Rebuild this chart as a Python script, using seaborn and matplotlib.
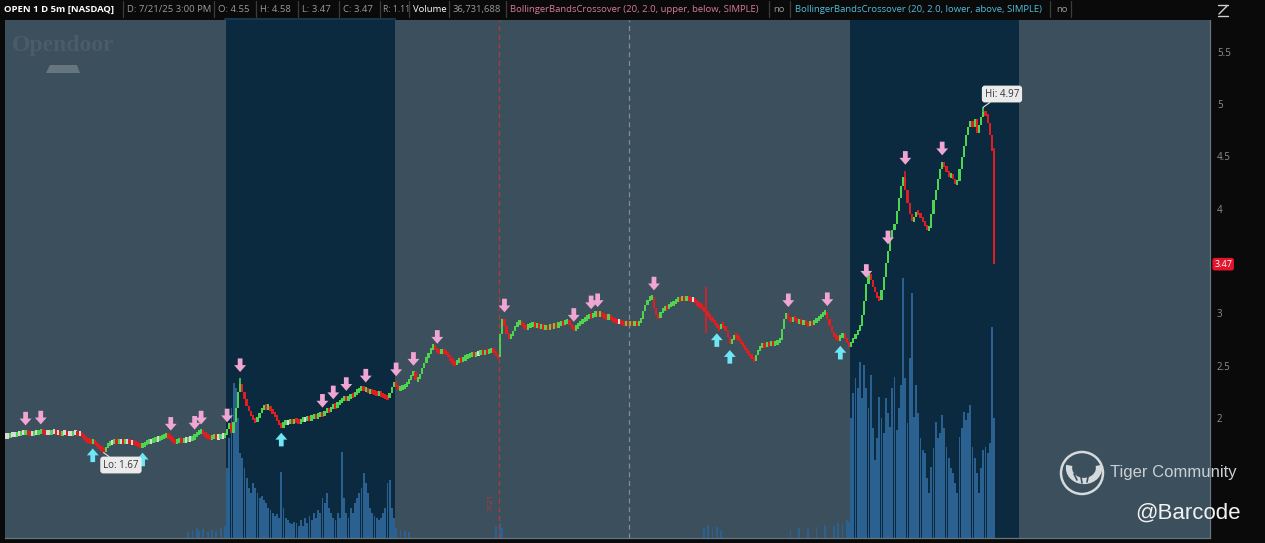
import matplotlib
matplotlib.use("Agg")
import numpy as np
import pandas as pd
import matplotlib.pyplot as plt
import seaborn as sns
from matplotlib.patches import Circle, Arc, Polygon
from matplotlib.lines import Line2D

# ---- data (5 min bars, OPEN) ----
closes = [
    # extended hours before 7/18 open (bars 0-101)
    1.83, 1.83, 1.84, 1.84, 1.84, 1.85, 1.85, 1.86, 1.86, 1.87,
    1.86, 1.85, 1.85, 1.86, 1.86, 1.87, 1.88, 1.87, 1.86, 1.86,
    1.86, 1.87, 1.87, 1.86, 1.86, 1.85, 1.86, 1.86, 1.85, 1.85,
    1.85, 1.86, 1.86, 1.85, 1.85,
    1.83, 1.81, 1.79, 1.78, 1.77, 1.78, 1.76, 1.74, 1.72, 1.70, 1.68,
    1.72, 1.75, 1.77, 1.77, 1.78, 1.77, 1.78, 1.78, 1.77, 1.78, 1.78, 1.77, 1.77,
    1.76, 1.75, 1.74, 1.73, 1.74,
    1.76, 1.77, 1.78, 1.78, 1.79, 1.80, 1.80, 1.81, 1.82, 1.83, 1.84,
    1.82, 1.80, 1.78, 1.77, 1.78,
    1.79, 1.78, 1.79, 1.79, 1.80, 1.80, 1.81,
    1.83, 1.85, 1.87, 1.88, 1.85,
    1.83, 1.82, 1.81, 1.82, 1.83, 1.82, 1.82, 1.83, 1.83, 1.84,
    # regular session 1 (bars 102-179)
    1.90, 1.95, 1.86, 1.96, 2.10, 2.25, 2.33,
    2.25, 2.18, 2.12, 2.07, 2.02,
    1.99, 1.97, 2.00,
    2.05, 2.09, 2.11, 2.10, 2.11,
    2.07, 2.05, 2.02, 1.98, 1.94, 1.92,
    1.95, 1.96, 1.96, 1.97, 1.96, 1.98, 1.97, 1.96, 1.98, 1.99,
    1.99, 2.00, 1.99, 2.01, 2.02, 2.01, 2.03, 2.04, 2.03,
    2.06, 2.08, 2.07, 2.10, 2.12, 2.11, 2.14, 2.16, 2.18, 2.20, 2.18, 2.20,
    2.22, 2.21, 2.24, 2.26, 2.27, 2.29, 2.27, 2.28,
    2.25, 2.26, 2.25, 2.24, 2.23, 2.24, 2.22, 2.21, 2.20, 2.19,
    2.24, 2.30, 2.34,
    # after hours / overnight / premarket (bars 180-389)
    2.31, 2.28, 2.29, 2.30, 2.31, 2.33,
    2.37, 2.41, 2.44, 2.36, 2.38, 2.42,
    2.48, 2.53, 2.58, 2.62, 2.66, 2.70,
    2.65, 2.64, 2.63, 2.64, 2.63, 2.62,
    2.59, 2.56, 2.53, 2.52, 2.54,
    2.56, 2.55, 2.57, 2.58,
    2.59, 2.60, 2.61, 2.60, 2.62, 2.62, 2.63, 2.62, 2.64, 2.63, 2.64, 2.65, 2.64,
    2.60, 2.58,
    2.80, 2.95,
    2.88, 2.80, 2.77, 2.79,
    2.83, 2.88, 2.91, 2.92,
    2.89, 2.87, 2.86, 2.88,
    2.89, 2.90, 2.88, 2.89, 2.87, 2.88, 2.86, 2.87, 2.86, 2.88,
    2.87, 2.89, 2.88, 2.90, 2.91, 2.90, 2.92,
    2.93, 2.89, 2.86, 2.85, 2.87,
    2.89, 2.91, 2.93, 2.95, 2.96, 2.98, 2.97, 2.99, 3.00, 2.99, 3.00,
    2.98, 2.97, 2.96, 2.97, 2.95, 2.94, 2.93, 2.92, 2.92,
    2.91, 2.90, 2.91, 2.90, 2.91, 2.90, 2.91, 2.90, 2.91,
    2.95, 3.02, 3.08, 3.13, 3.15,
    3.16, 3.05, 2.98, 2.96,
    3.01, 3.04, 3.06, 3.05, 3.08, 3.09, 3.10,
    3.12, 3.14, 3.13, 3.15, 3.14, 3.15, 3.14, 3.13, 3.13,
    3.11, 3.09, 3.07, 3.05, 3.03, 3.01,
    2.98, 2.95, 2.93, 2.90, 2.87, 2.85,
    2.90, 2.88,
    2.83, 2.77, 2.71,
    2.75, 2.79, 2.78,
    2.75, 2.72, 2.69, 2.66, 2.63, 2.60, 2.57, 2.55,
    2.60, 2.65, 2.68, 2.70,
    2.69, 2.71, 2.70, 2.72, 2.71, 2.72, 2.73, 2.75,
    2.85, 2.95, 3.00,
    2.95, 2.93, 2.96, 2.94, 2.92,
    2.93, 2.91, 2.92, 2.90, 2.89, 2.91, 2.90, 2.92, 2.94,
    2.96, 2.98, 3.00, 3.01,
    2.95, 2.88, 2.82, 2.78, 2.77,
    2.75, 2.78, 2.80, 2.76, 2.72,
    2.68,
    # regular session 7/21 (bars 390-456)
    2.72, 2.76, 2.80, 2.84, 2.88,
    2.98, 3.12, 3.28, 3.38,
    3.32, 3.25, 3.20, 3.15, 3.13,
    3.22, 3.35, 3.48, 3.60, 3.72, 3.80,
    3.85, 3.98, 4.10, 4.22, 4.30,
    4.18, 4.05, 3.95, 3.88,
    3.92, 3.97, 3.95,
    3.92, 3.88, 3.84, 3.80, 3.82,
    3.95, 4.08, 4.18,
    4.28, 4.38, 4.45,
    4.40, 4.36, 4.30, 4.33, 4.28, 4.24, 4.26,
    4.38, 4.49,
    4.60, 4.70, 4.78, 4.84,
    4.78, 4.86, 4.72, 4.80,
    4.88, 4.92, 4.90,
    4.82, 4.70, 4.55, 3.47,
]
first_open = 1.83
wick_high = {108: 2.38, 323: 3.25, 415: 4.36, 451: 4.97, 456: 4.58}
wick_low = {45: 1.67, 323: 2.81, 456: 3.47}

# volume, thousands of shares
vol_rth1 = [280, 400, 520, 620, 600, 480, 340, 320, 280, 240,
            200, 180, 220, 200, 180, 160, 168, 152, 140, 120,
            112, 100, 88, 96, 80, 264, 120, 80, 72, 60,
            56, 64, 60, 48, 72, 48, 80, 60, 88, 72,
            100, 80, 112, 100, 160, 140, 180, 120, 100, 80,
            72, 100, 80, 344, 160, 100, 80, 120, 100, 140,
            160, 180, 200, 260, 220, 180, 120, 100, 88, 80,
            72, 80, 100, 120, 220, 232, 120, 80]
vol_rth2 = [480, 580, 640, 600, 704, 560, 692, 600, 520, 652,
            440, 312, 400, 564, 480, 420, 560, 500, 444, 600,
            644, 432, 520, 612, 1040, 640, 460, 720, 980, 484,
            612, 500, 400, 352, 340, 240, 180, 284, 360, 464,
            400, 420, 492, 440, 364, 320, 280, 260, 220, 180,
            404, 440, 504, 472, 500, 532, 364, 320, 260, 180,
            280, 352, 364, 340, 380, 844, 480]
vol_ext = {84: 24, 86: 32, 88: 40, 89: 28, 91: 36, 93: 24, 95: 32, 97: 28,
           99: 40, 101: 48, 180: 40, 182: 32, 184: 28, 186: 24, 226: 48,
           228: 60, 229: 40, 322: 40, 324: 52, 326: 36, 328: 44, 330: 28,
           362: 32, 366: 40, 370: 36, 374: 44, 378: 52, 382: 48, 384: 60,
           386: 56, 388: 72, 389: 64}

rth_start = [102, 390]
rth_len = 78
down_signals = [9, 16, 76, 87, 90, 102, 108, 146, 151, 157, 166, 180, 188, 199,
                230, 262, 270, 273, 299, 361, 379, 397, 407, 415, 432]
up_signals = [40, 63, 127, 328, 334, 385]
yticks = [2, 2.5, 3, 4, 4.5, 5, 5.5]
ytick_labels = ["2", "2.5", "3", "4", "4.5", "5", "5.5"]

header = [
    ("OPEN 1 D 5m [NASDAQ]", 4, "#ffffff", "bold"),
    ("D: 7/21/25 3:00 PM", 127, "#9a9a9a", "normal"),
    ("O: 4.55", 218, "#9a9a9a", "normal"),
    ("H: 4.58", 260, "#9a9a9a", "normal"),
    ("L: 3.47", 302, "#9a9a9a", "normal"),
    ("C: 3.47", 343, "#9a9a9a", "normal"),
    ("R: 1.11", 383, "#9a9a9a", "normal"),
    ("Volume", 413, "#ffffff", "normal"),
    ("36,731,688", 453, "#9a9a9a", "normal"),
    ("BollingerBandsCrossover (20, 2.0, upper, below, SIMPLE)", 510, "#d97a9c", "normal"),
    ("no", 773, "#9a9a9a", "normal"),
    ("BollingerBandsCrossover (20, 2.0, lower, above, SIMPLE)", 795, "#4fbfdc", "normal"),
    ("no", 1056, "#9a9a9a", "normal"),
]
header_seps = [123, 214, 256, 298, 339, 380, 409, 449, 506, 769, 790, 1050, 1071]

# ---- build OHLC table ----
df = pd.DataFrame({"close": closes})
df["bar"] = np.arange(len(df))
df["open"] = df["close"].shift(1).fillna(first_open)
df["high"] = df[["open", "close"]].max(axis=1)
df["low"] = df[["open", "close"]].min(axis=1)
for k, v in wick_high.items():
    df.loc[k, "high"] = v
for k, v in wick_low.items():
    df.loc[k, "low"] = v

vol = np.zeros(len(df))
vol[rth_start[0]:rth_start[0] + len(vol_rth1)] = vol_rth1
vol[rth_start[1]:rth_start[1] + len(vol_rth2)] = vol_rth2
for k, v in vol_ext.items():
    vol[k] = v
vol_df = pd.DataFrame({"bar": df["bar"], "volume": vol})

# ---- style ----
sns.set_theme(style="dark")
plt.rcParams["font.family"] = ["Open Sans", "DejaVu Sans"]

W, H = 1265, 543
fig = plt.figure(figsize=(W / 100, H / 100), dpi=100, facecolor="#0a0a0a")
rect = [5 / W, 5 / H, 1205 / W, 518 / H]

LIGHT = "#3b4f5c"
DARK = "#0b2a40"
x_max = 555.6

# volume + session shading (bottom layer)
ax_vol = fig.add_axes(rect, zorder=0)
ax_vol.set_facecolor(LIGHT)
for s in rth_start:
    ax_vol.axvspan(s - 0.5, s + rth_len - 0.5, color=DARK, lw=0)
nz = vol_df[vol_df["volume"] > 0]
sns.barplot(data=nz, x="bar", y="volume", native_scale=True, width=0.85,
            color="#2a6190", saturation=1, linewidth=0, errorbar=None, ax=ax_vol)
ax_vol.set_xlim(-0.5, x_max)
ax_vol.set_ylim(0, 2072)
ax_vol.set_xticks([])
ax_vol.set_yticks([])
ax_vol.set_xlabel("")
ax_vol.set_ylabel("")
for sp in ax_vol.spines.values():
    sp.set_visible(False)

# price layer
ax = fig.add_axes(rect, zorder=1, sharex=ax_vol)
ax.patch.set_alpha(0)
ax.set_ylim(0.855, 5.802)
ax.axvline(227.5, color="#b33a3a", lw=0.9, ls=(0, (4, 3)))
ax.axvline(287.5, color="#7f8e98", lw=0.9, ls=(0, (4, 3)))
ax.text(225.3, 1.2, "7/21", rotation=90, ha="right", va="center", fontsize=6,
        color="#b33a3a")

up = df["close"] > df["open"]
dn = df["close"] < df["open"]
colors = np.where(up, "#4fd44f", np.where(dn, "#e01e22", "#d8d8d8"))
body_lo = df[["open", "close"]].min(axis=1)
body_h = (df["close"] - df["open"]).abs()
pad = (0.05 - body_h).clip(lower=0) / 2
ax.vlines(df["bar"], df["low"], df["high"], colors=colors, lw=1.2)
ax.bar(df["bar"], body_h + 2 * pad, bottom=body_lo - pad, width=1.05, color=colors,
       linewidth=0)

PINK = "#f0a6d2"
CYAN = "#6fe6f4"
astyle = "simple,head_length=0.55,head_width=0.95,tail_width=0.38"
for i in down_signals:
    y0 = df.loc[i, "high"] + 0.06
    ax.annotate("", xy=(i, y0), xytext=(i, y0 + 0.13),
                arrowprops=dict(arrowstyle=astyle, fc=PINK, ec="none",
                                mutation_scale=9, shrinkA=0, shrinkB=0))
for i in up_signals:
    y0 = df.loc[i, "low"] - 0.06
    ax.annotate("", xy=(i, y0), xytext=(i, y0 - 0.13),
                arrowprops=dict(arrowstyle=astyle, fc=CYAN, ec="none",
                                mutation_scale=9, shrinkA=0, shrinkB=0))

lab_box = dict(boxstyle="round,pad=0.3,rounding_size=0.3", fc="#ebebeb", ec="none")
ax.annotate("Lo: 1.67", xy=(45, 1.67), xytext=(53.0, 1.552), ha="center", va="center",
            fontsize=7, color="#333333", bbox=lab_box,
            arrowprops=dict(arrowstyle="-", color="#e0e0e0", lw=0.8, shrinkA=0, shrinkB=0))
ax.annotate("Hi: 4.97", xy=(451, 4.97), xytext=(459.6, 5.095), ha="center", va="center",
            fontsize=7, color="#333333", bbox=lab_box,
            arrowprops=dict(arrowstyle="-", color="#e0e0e0", lw=0.8, shrinkA=0, shrinkB=0))

ax.yaxis.tick_right()
ax.set_yticks(yticks)
ax.set_yticklabels(ytick_labels)
ax.tick_params(axis="y", length=0, pad=5, labelsize=7, labelcolor="#8f8f8f")
ax.tick_params(axis="x", length=0, labelbottom=False)
for sp in ["top", "left"]:
    ax.spines[sp].set_visible(False)
for sp in ["bottom", "right"]:
    ax.spines[sp].set_color("#66757e")
    ax.spines[sp].set_linewidth(0.9)
ax.text(1.0035, 3.47, "3.47", transform=ax.get_yaxis_transform(), ha="left", va="center",
        fontsize=6.5, color="white",
        bbox=dict(boxstyle="round,pad=0.2,rounding_size=0.25", fc="#e3142c", ec="none"))

# ---- overlay in pixel coordinates: header and watermarks ----
ov = fig.add_axes([0, 0, 1, 1], zorder=5)
ov.set_xlim(0, W)
ov.set_ylim(H, 0)
ov.axis("off")
ov.patch.set_alpha(0)
for txt, x, c, w in header:
    size = 6.2 if txt.startswith("R:") else 6.8
    ov.text(x, 9.5, txt, color=c, fontsize=size, fontweight=w, ha="left", va="center")
for x in header_seps:
    ov.add_line(Line2D([x, x], [1, 17], color="#3c3c3c", lw=0.9))
ov.add_line(Line2D([225, 395], [19, 19], color="#15384f", lw=1.5))

# zoom icon top right
ov.add_line(Line2D([1218, 1228], [5, 5], color="#d0d0d0", lw=1))
ov.add_line(Line2D([1219, 1227], [14, 6], color="#d0d0d0", lw=1))
ov.add_line(Line2D([1218, 1228], [16, 16], color="#d0d0d0", lw=1))

# Opendoor watermark
ov.text(12, 46, "Opendoor", color="#57697380", fontsize=17, fontweight="bold",
        family=["Liberation Serif", "DejaVu Serif"], ha="left", va="center")
ov.add_patch(Polygon([[50, 65], [77, 65], [80, 73], [46, 73]], closed=True,
                     fc="#66767e", ec="none"))

# Tiger Community watermark
ov.add_patch(Circle((1082, 473), 21, fill=False, ec="#d5dadd", lw=1.8))
ov.add_patch(Arc((1084, 468), 30, 26, theta1=-10, theta2=190, ec="#d5dadd", lw=4.5))
for x0, y0, x1, y1 in [(1074, 474, 1077, 480), (1081, 477, 1082, 483), (1088, 477, 1087, 482)]:
    ov.add_line(Line2D([x0, x1], [y0, y1], color="#3b4f5c", lw=1.2))
ov.text(1110, 473, "Tiger Community", color="#c9d0d4", fontsize=12,
        family=["Liberation Sans", "DejaVu Sans"], ha="left", va="center")
ov.text(1135, 513, "@Barcode", color="#f2f2f2", fontsize=16,
        family=["Liberation Sans", "DejaVu Sans"], ha="left", va="center")

fig.savefig("out.png", dpi=100, facecolor=fig.get_facecolor())
